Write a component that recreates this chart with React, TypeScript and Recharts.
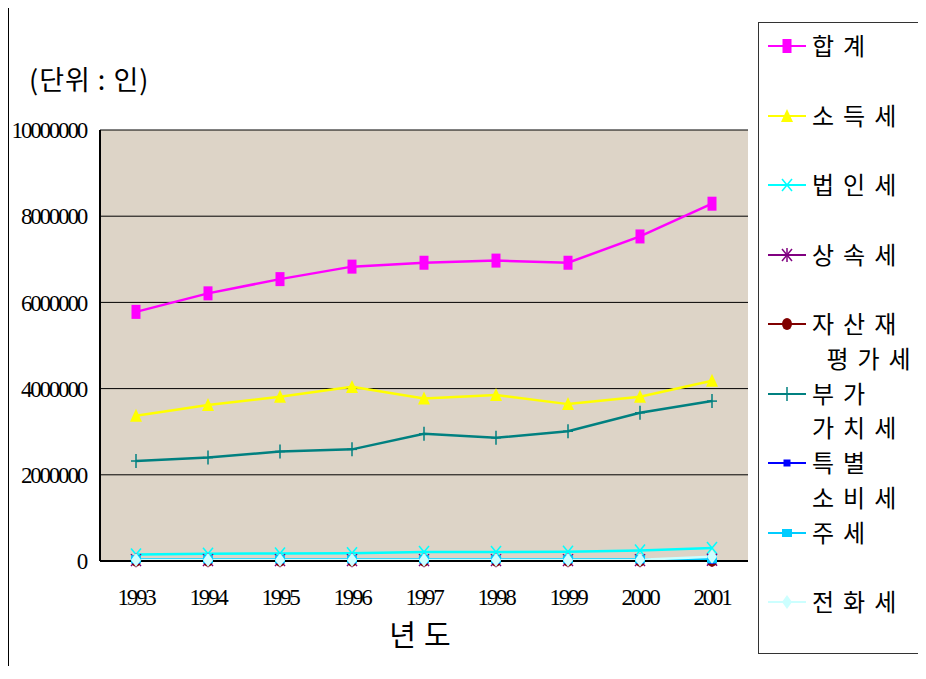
import React from 'react';
import {
  CartesianGrid,
  Label,
  Line,
  LineChart,
  XAxis,
  YAxis,
} from 'recharts';

const years = ['1993', '1994', '1995', '1996', '1997', '1998', '1999', '2000', '2001'];

const total = [5780000, 6210000, 6540000, 6830000, 6920000, 6970000, 6920000, 7530000, 8290000];
const incomeTax = [3370000, 3620000, 3810000, 4040000, 3770000, 3850000, 3640000, 3810000, 4180000];
const corporateTax = [150000, 170000, 175000, 180000, 210000, 210000, 215000, 245000, 300000];
const inheritanceTax = [20000, 20000, 20000, 20000, 20000, 20000, 20000, 20000, 30000];
const revaluationTax = [3000, 3000, 3000, 3000, 3000, 3000, 3000, 3000, 3000];
const vat = [2320000, 2400000, 2540000, 2590000, 2950000, 2860000, 3010000, 3440000, 3710000];
const exciseTax = [15000, 15000, 15000, 15000, 15000, 15000, 15000, 15000, 15000];
const liquorTax = [40000, 40000, 40000, 40000, 40000, 40000, 40000, 40000, 40000];
const phoneTax = [25000, 25000, 25000, 25000, 25000, 25000, 25000, 30000, 100000];

const yTicks = [0, 2000000, 4000000, 6000000, 8000000, 10000000];

const seriesNames = ['합계', '소득세', '법인세', '상속세', '자산재평가세', '부가가치세', '특별소비세', '주세', '전화세'];
const legendLabels = ['합계', '소득세', '법인세', '상속세', '자산재\n 평가세', '부가\n가치세', '특별\n소비세', '주세', '전화세'];
const seriesValues = [total, incomeTax, corporateTax, inheritanceTax, revaluationTax, vat, exciseTax, liquorTax, phoneTax];

const COLORS = ['#ff00ff', '#ffff00', '#00ffff', '#800080', '#800000', '#008080', '#0000ff', '#00ccff', '#ccffff'];
const SHAPES = ['rect', 'triangle', 'x', 'star', 'circle', 'plus', 'smallSquare', 'square', 'diamond'];

const data = years.map((year, i) => {
  const row: Record<string, string | number> = { year };
  seriesValues.forEach((vals, s) => {
    row[`s${s}`] = vals[i];
  });
  return row;
});

function Marker({ shape, color, cx, cy }: { shape: string; color: string; cx: number; cy: number }) {
  switch (shape) {
    case 'rect':
      return <rect x={cx - 4.5} y={cy - 7} width={9} height={14} fill={color} />;
    case 'triangle':
      return <polygon points={`${cx},${cy - 7} ${cx - 6},${cy + 6} ${cx + 6},${cy + 6}`} fill={color} />;
    case 'x':
      return (
        <g stroke={color} strokeWidth={1.5}>
          <line x1={cx - 5} y1={cy - 6} x2={cx + 5} y2={cy + 6} />
          <line x1={cx + 5} y1={cy - 6} x2={cx - 5} y2={cy + 6} />
        </g>
      );
    case 'star':
      return (
        <g stroke={color} strokeWidth={1.5}>
          <line x1={cx - 5} y1={cy - 6} x2={cx + 5} y2={cy + 6} />
          <line x1={cx + 5} y1={cy - 6} x2={cx - 5} y2={cy + 6} />
          <line x1={cx} y1={cy - 7} x2={cx} y2={cy + 7} />
        </g>
      );
    case 'circle':
      return <ellipse cx={cx} cy={cy} rx={5} ry={6} fill={color} />;
    case 'plus':
      return (
        <g stroke={color} strokeWidth={1.5}>
          <line x1={cx} y1={cy - 7} x2={cx} y2={cy + 7} />
          <line x1={cx - 5} y1={cy} x2={cx + 5} y2={cy} />
        </g>
      );
    case 'smallSquare':
      return <rect x={cx - 3.5} y={cy - 3.5} width={7} height={7} fill={color} />;
    case 'square':
      return <rect x={cx - 5} y={cy - 4} width={10} height={8} fill={color} />;
    case 'diamond':
      return <polygon points={`${cx},${cy - 7} ${cx + 5},${cy} ${cx},${cy + 7} ${cx - 5},${cy}`} fill={color} />;
    default:
      return null;
  }
}

const serifTick = {
  fontSize: 23,
  fill: '#000',
  fontFamily: '"Liberation Serif", serif',
  letterSpacing: -2.2,
};

const KR_FONT = '"Noto Sans CJK KR", sans-serif';

function ChartLegend() {
  return (
    <div
      style={{
        position: 'absolute',
        left: 750,
        top: 14,
        width: 164,
        height: 632,
        border: '1px solid #333',
        background: '#fff',
        paddingTop: 5,
        boxSizing: 'border-box',
      }}
    >
      {legendLabels.map((label, i) => (
        <div key={seriesNames[i]} style={{ display: 'flex', height: 69.5, alignItems: 'flex-start' }}>
          <svg width={52} height={35} style={{ flex: 'none' }}>
            <line x1={9} y1={18} x2={47} y2={18} stroke={COLORS[i]} strokeWidth={2} />
            <Marker shape={SHAPES[i]} color={COLORS[i]} cx={28} cy={18} />
          </svg>
          <div
            style={{
              fontFamily: KR_FONT,
              fontSize: 24,
              lineHeight: '34.75px',
              letterSpacing: 9,
              whiteSpace: 'pre',
              color: '#000',
              marginLeft: 1,
            }}
          >
            {label}
          </div>
        </div>
      ))}
    </div>
  );
}

export default function App() {
  return (
    <div style={{ position: 'relative', width: 910, height: 660 }}>
      <div
        style={{
          position: 'absolute',
          left: -1,
          top: -4,
          width: 905,
          height: 662,
          borderLeft: '2px solid #000',
          borderTop: '2px solid #000',
          boxSizing: 'border-box',
        }}
      />
      <div
        style={{
          position: 'absolute',
          left: 21,
          top: 52,
          fontFamily: KR_FONT,
          fontSize: 27,
          lineHeight: '38px',
          letterSpacing: 1,
          color: '#000',
          whiteSpace: 'pre',
        }}
      >
        (단위 : 인)
      </div>
      <LineChart
        width={910}
        height={660}
        data={data}
        margin={{ top: 122, right: 170, bottom: 77, left: 0 }}
      >
        <CartesianGrid fill="#ddd4c7" stroke="#000" strokeWidth={1} vertical={false} fillOpacity={1} />
        <XAxis
          dataKey="year"
          padding={{ left: 36, right: 36 }}
          tick={serifTick}
          tickLine={false}
          tickSize={0}
          tickMargin={28}
          axisLine={{ stroke: '#000', strokeWidth: 2 }}
          height={30}
        >
          <Label
            value="년도"
            position="bottom"
            offset={34}
            style={{ fontFamily: KR_FONT, fontSize: 29, fill: '#000', letterSpacing: 8 }}
          />
        </XAxis>
        <YAxis
          domain={[0, 10000000]}
          ticks={yTicks}
          interval={0}
          width={92}
          tick={serifTick}
          tickLine={false}
          tickSize={0}
          tickMargin={14}
          axisLine={{ stroke: '#000', strokeWidth: 2 }}
        />
        <YAxis
          yAxisId="frame"
          orientation="right"
          width={0}
          tick={false}
          tickLine={false}
          axisLine={{ stroke: '#000', strokeWidth: 1.5 }}
        />
        {seriesNames.map((name, s) => (
          <Line
            key={name}
            type="linear"
            dataKey={`s${s}`}
            name={name}
            stroke={COLORS[s]}
            strokeWidth={2.5}
            isAnimationActive={false}
            dot={(p: any) => (
              <Marker key={`${name}-${p.index}`} shape={SHAPES[s]} color={COLORS[s]} cx={p.cx} cy={p.cy} />
            )}
            activeDot={false}
          />
        ))}
      </LineChart>
      <ChartLegend />
    </div>
  );
}
